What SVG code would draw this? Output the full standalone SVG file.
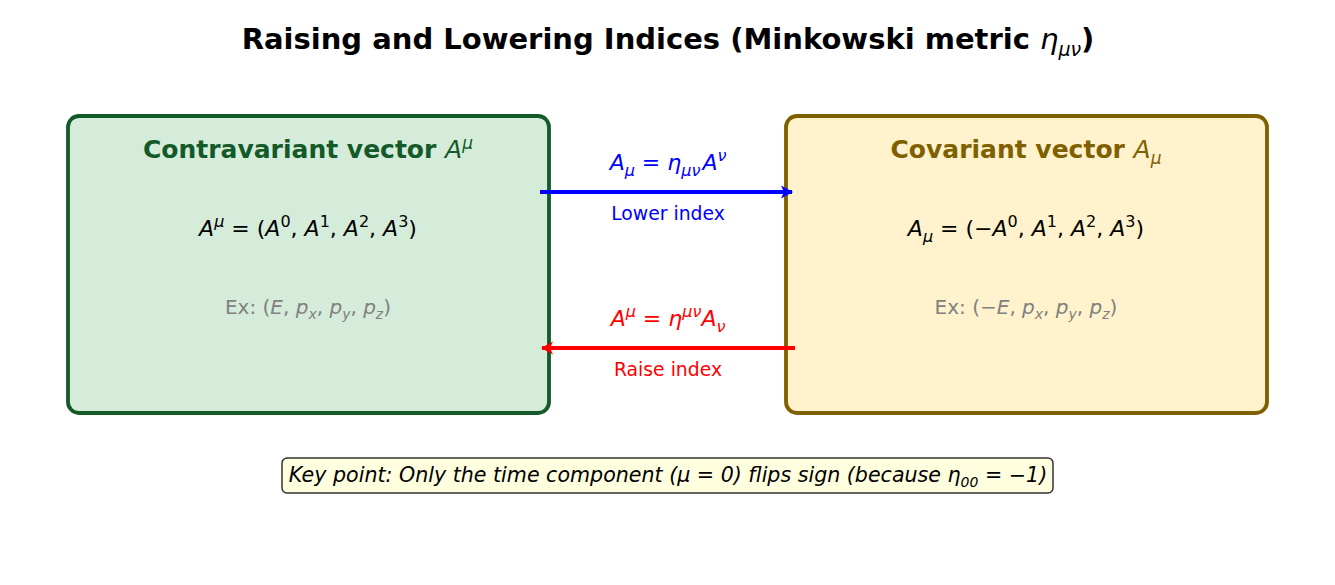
<svg xmlns="http://www.w3.org/2000/svg" width="1335" height="585" viewBox="0 0 1335 585">
<defs>
<style>
text{font-family:"DejaVu Sans",sans-serif;}
.m{font-style:italic;}
.r{font-style:normal;}
.title{font-size:29px;font-weight:bold;fill:#000;}
.ntl{font-size:25px;font-weight:bold;fill:#145a28;}
.ntr{font-size:25px;font-weight:bold;fill:#7f6000;}
.eq{font-size:22px;}
.k{fill:#000;}
.b{fill:#0000ff;}
.rd{fill:#ff0000;}
.ex{font-size:20px;fill:#808080;}
.lbl{font-size:18.8px;}
.key{font-size:20.6px;font-style:italic;fill:#000;}
</style>
<marker id="ab" viewBox="0 -7 12 14" refX="11" refY="0" markerWidth="12" markerHeight="14" markerUnits="userSpaceOnUse" orient="auto"><path d="M0,-6.5 L12,0 L0,6.5 L3,0 z" fill="#0000ff"/></marker>
<marker id="ar" viewBox="0 -7 12 14" refX="11" refY="0" markerWidth="12" markerHeight="14" markerUnits="userSpaceOnUse" orient="auto"><path d="M0,-6.5 L12,0 L0,6.5 L3,0 z" fill="#ff0000"/></marker>
</defs>
<rect width="1335" height="585" fill="#fff"/>
<text class="title" x="668" y="49" text-anchor="middle">Raising and Lowering Indices (Minkowski metric <tspan class="m" font-weight="normal">η</tspan><tspan class="m" font-weight="normal" font-size="19" dy="7">μν</tspan><tspan dy="-7">)</tspan></text>

<g id="contravariant">
<rect x="68" y="116" width="481" height="297" rx="11" fill="#d5ecdb" stroke="#145a28" stroke-width="3.8"/>
<text class="ntl" x="308" y="158" text-anchor="middle">Contravariant vector <tspan class="m" font-weight="normal">A</tspan><tspan class="m" font-weight="normal" font-size="17" dy="-9">μ</tspan></text>
<text class="eq k m" x="308" y="236" text-anchor="middle">A<tspan font-size="16" dy="-9">μ</tspan><tspan class="r" dy="9"> = (</tspan>A<tspan class="r" font-size="16" dy="-9">0</tspan><tspan class="r" dy="9">, </tspan>A<tspan class="r" font-size="16" dy="-9">1</tspan><tspan class="r" dy="9">, </tspan>A<tspan class="r" font-size="16" dy="-9">2</tspan><tspan class="r" dy="9">, </tspan>A<tspan class="r" font-size="16" dy="-9">3</tspan><tspan class="r" dy="9">)</tspan></text>
<text class="ex" x="308" y="314" text-anchor="middle">Ex: (<tspan class="m">E</tspan>, <tspan class="m">p</tspan><tspan class="m" font-size="14" dy="5">x</tspan><tspan dy="-5">, </tspan><tspan class="m">p</tspan><tspan class="m" font-size="14" dy="5">y</tspan><tspan dy="-5">, </tspan><tspan class="m">p</tspan><tspan class="m" font-size="14" dy="5">z</tspan><tspan dy="-5">)</tspan></text>
</g>

<g id="covariant">
<rect x="786" y="116" width="481" height="297" rx="11" fill="#fff2cc" stroke="#7f6000" stroke-width="3.8"/>
<text class="ntr" x="1026" y="158" text-anchor="middle">Covariant vector <tspan class="m" font-weight="normal">A</tspan><tspan class="m" font-weight="normal" font-size="17" dy="6">μ</tspan></text>
<text class="eq k m" x="1026" y="236" text-anchor="middle">A<tspan font-size="16" dy="6">μ</tspan><tspan class="r" dy="-6"> = (−</tspan>A<tspan class="r" font-size="16" dy="-9">0</tspan><tspan class="r" dy="9">, </tspan>A<tspan class="r" font-size="16" dy="-9">1</tspan><tspan class="r" dy="9">, </tspan>A<tspan class="r" font-size="16" dy="-9">2</tspan><tspan class="r" dy="9">, </tspan>A<tspan class="r" font-size="16" dy="-9">3</tspan><tspan class="r" dy="9">)</tspan></text>
<text class="ex" x="1026" y="314" text-anchor="middle">Ex: (−<tspan class="m">E</tspan>, <tspan class="m">p</tspan><tspan class="m" font-size="14" dy="5">x</tspan><tspan dy="-5">, </tspan><tspan class="m">p</tspan><tspan class="m" font-size="14" dy="5">y</tspan><tspan dy="-5">, </tspan><tspan class="m">p</tspan><tspan class="m" font-size="14" dy="5">z</tspan><tspan dy="-5">)</tspan></text>
</g>

<g id="connectors">
<line x1="540" y1="192" x2="792" y2="192" stroke="#0000ff" stroke-width="3.8" marker-end="url(#ab)"/>
<text class="eq b m" x="668" y="170" text-anchor="middle">A<tspan font-size="16" dy="6">μ</tspan><tspan class="r" dy="-6"> = </tspan>η<tspan font-size="16" dy="6">μν</tspan><tspan dx="2" dy="-6">A</tspan><tspan font-size="16" dy="-9">ν</tspan></text>
<text class="lbl b" x="668" y="220" text-anchor="middle">Lower index</text>
<line x1="795" y1="348" x2="542" y2="348" stroke="#ff0000" stroke-width="3.8" marker-end="url(#ar)"/>
<text class="eq rd m" x="668" y="326" text-anchor="middle">A<tspan font-size="16" dy="-9">μ</tspan><tspan class="r" dy="9"> = </tspan>η<tspan font-size="16" dy="-9">μν</tspan><tspan dy="9">A</tspan><tspan font-size="16" dy="6">ν</tspan></text>
<text class="lbl rd" x="668" y="376" text-anchor="middle">Raise index</text>
</g>

<g id="keypoint">
<rect x="282" y="458" width="771" height="35" rx="5" fill="#ffffe0" stroke="#333333" stroke-width="1.5"/>
<text class="key" x="668" y="482" text-anchor="middle">Key point: Only the time component (μ = 0) flips sign (because η<tspan font-size="14" dy="5">00</tspan><tspan dy="-5"> = −1)</tspan></text>
</g>
</svg>
